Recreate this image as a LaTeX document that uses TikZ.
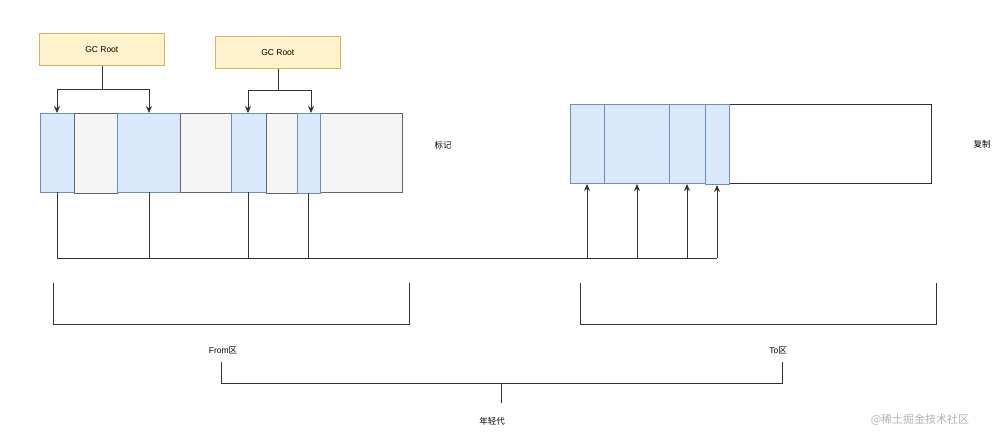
\documentclass[tikz,border=0pt]{standalone}
\usepackage{fontspec}
\setmainfont{Liberation Sans}
\newfontfamily\cjk{Noto Sans CJK SC}
\usetikzlibrary{arrows.meta}
\definecolor{bfill}{HTML}{DAE8FC}
\definecolor{bdraw}{HTML}{6C8EBF}
\definecolor{yfill}{HTML}{FFF2CC}
\definecolor{ydraw}{HTML}{D6B656}
\definecolor{gfill}{HTML}{F5F5F5}
\definecolor{gdraw}{HTML}{666666}
\begin{document}
\begin{tikzpicture}[x=1pt,y=-1pt,
  blue/.style={draw=bdraw,fill=bfill,line width=0.8pt},
  grayc/.style={draw=gdraw,fill=gfill,line width=0.8pt},
  root/.style={draw=ydraw,fill=yfill,line width=0.6pt},
  ln/.style={draw=black!80,line width=0.7pt},
  arr/.style={ln,-{Stealth[length=7pt,width=6pt]}},
  lbl/.style={font=\fontsize{8.5}{10}\selectfont}]
\useasboundingbox (0,0) rectangle (1003,438);
% left cells
\node[blue,minimum width=34,minimum height=79,inner sep=0,anchor=north west] (c1) at (40,113) {};
\node[grayc,minimum width=43,minimum height=80,inner sep=0,anchor=north west] (c2) at (74,113) {};
\node[blue,minimum width=63,minimum height=79,inner sep=0,anchor=north west] (c3) at (117,113) {};
\node[grayc,minimum width=51,minimum height=79,inner sep=0,anchor=north west] (c4) at (180,113) {};
\node[blue,minimum width=35,minimum height=79,inner sep=0,anchor=north west] (c5) at (231,113) {};
\node[grayc,minimum width=31,minimum height=80,inner sep=0,anchor=north west] (c6) at (266,113) {};
\node[grayc,minimum width=82,minimum height=79,inner sep=0,anchor=north west] (c8) at (320,113) {};
\node[blue,minimum width=23,minimum height=80,inner sep=0,anchor=north west] (c7) at (297,113) {};
% roots
\node[root,minimum width=125,minimum height=32,inner sep=0,anchor=north west,lbl] (r1) at (39,33) {GC Root};
\node[root,minimum width=125,minimum height=32,inner sep=0,anchor=north west,lbl] (r2) at (215,36) {GC Root};
\coordinate (j1) at (102,89);
\coordinate (j2) at (278,90);
\draw[ln] (r1.south -| j1) -- (j1);
\draw[arr] (j1) -- (57,89) -- (57,113);
\draw[arr] (j1) -- (149,89) -- (149,113);
\draw[ln] (r2.south -| j2) -- (j2);
\draw[arr] (j2) -- (248,90) -- (248,113);
\draw[arr] (j2) -- (311,90) -- (311,113);
% right block
\node[draw=black!80,line width=0.7pt,minimum width=361,minimum height=79,inner sep=0,anchor=north west] (rb) at (570,104) {};
\node[blue,minimum width=34,minimum height=79,inner sep=0,anchor=north west] (d1) at (570,104) {};
\node[blue,minimum width=65,minimum height=79,inner sep=0,anchor=north west] (d2) at (604,104) {};
\node[blue,minimum width=36,minimum height=79,inner sep=0,anchor=north west] (d3) at (669,104) {};
\node[blue,minimum width=24,minimum height=80,inner sep=0,anchor=north west] (d4) at (705,104) {};
% connectors
\draw[ln] (57,192) -- (57,258) -- (717,258);
\draw[ln] (149,192) -- (149,258);
\draw[ln] (248,192) -- (248,258);
\draw[ln] (308,193) -- (308,258);
\draw[arr] (587,258) -- (587,184);
\draw[arr] (637,258) -- (637,184);
\draw[arr] (687,258) -- (687,184);
\draw[arr] (717,258) -- (717,185);
% labels
\node[lbl] (t1) at (443,145) {\cjk 标记};
\node[lbl] (t2) at (982,144) {\cjk 复制};
% braces
\draw[ln] (53,283) -- (53,324) -- (409,324) -- (409,283);
\draw[ln] (580,283) -- (580,324) -- (936,324) -- (936,283);
\node[lbl] (f) at (223,350) {From{\cjk 区}};
\node[lbl] (to) at (778,350) {To{\cjk 区}};
\draw[ln] (221,362) -- (221,383) -- (782,383) -- (782,362);
\draw[ln] (501,383) -- (501,403);
\node[lbl] (y) at (492,421) {\cjk 年轻代};
\node[font=\fontsize{11}{12}\selectfont,text=gray!60] (wm) at (920,420) {\cjk @稀土掘金技术社区};
\end{tikzpicture}
\end{document}
